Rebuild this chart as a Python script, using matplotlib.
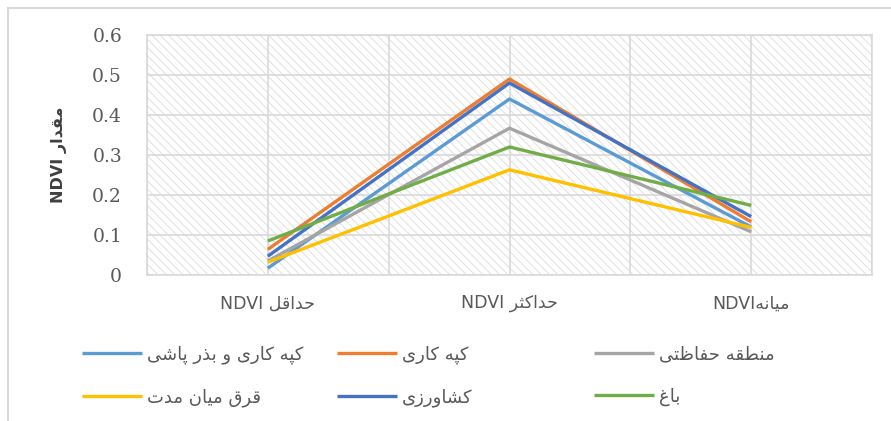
import matplotlib
matplotlib.use("Agg")
import matplotlib.pyplot as plt
from matplotlib.patches import Rectangle
from matplotlib.lines import Line2D

# data
categories = ["حداقل NDVI", "حداکثر NDVI", "میانهNDVI"]
series_names = ["کپه کاری و بذر پاشی", "کپه کاری", "منطقه حفاظتی",
                "قرق میان مدت", "کشاورزی", "باغ"]
pit_seeding = [0.017, 0.44, 0.12]
pitting = [0.064, 0.49, 0.133]
protected = [0.035, 0.367, 0.108]
exclosure = [0.032, 0.263, 0.119]
farming = [0.047, 0.48, 0.146]
garden = [0.085, 0.32, 0.174]
colors = ["#5B9BD5", "#ED7D31", "#A5A5A5", "#FFC000", "#4472C4", "#70AD47"]
y_ticks = [0, 0.1, 0.2, 0.3, 0.4, 0.5, 0.6]
y_title = "مقدار NDVI"

# simple arabic/persian shaping (no arabic_reshaper here)
FORMS = {
    'ا': (0xFE8D, 0xFE8E, None, None), 'آ': (0xFE81, 0xFE82, None, None),
    'ب': (0xFE8F, 0xFE90, 0xFE91, 0xFE92), 'پ': (0xFB56, 0xFB57, 0xFB58, 0xFB59),
    'ت': (0xFE95, 0xFE96, 0xFE97, 0xFE98), 'ث': (0xFE99, 0xFE9A, 0xFE9B, 0xFE9C),
    'ج': (0xFE9D, 0xFE9E, 0xFE9F, 0xFEA0), 'ح': (0xFEA1, 0xFEA2, 0xFEA3, 0xFEA4),
    'خ': (0xFEA5, 0xFEA6, 0xFEA7, 0xFEA8), 'د': (0xFEA9, 0xFEAA, None, None),
    'ذ': (0xFEAB, 0xFEAC, None, None), 'ر': (0xFEAD, 0xFEAE, None, None),
    'ز': (0xFEAF, 0xFEB0, None, None), 'س': (0xFEB1, 0xFEB2, 0xFEB3, 0xFEB4),
    'ش': (0xFEB5, 0xFEB6, 0xFEB7, 0xFEB8), 'ص': (0xFEB9, 0xFEBA, 0xFEBB, 0xFEBC),
    'ض': (0xFEBD, 0xFEBE, 0xFEBF, 0xFEC0), 'ط': (0xFEC1, 0xFEC2, 0xFEC3, 0xFEC4),
    'ظ': (0xFEC5, 0xFEC6, 0xFEC7, 0xFEC8), 'ع': (0xFEC9, 0xFECA, 0xFECB, 0xFECC),
    'غ': (0xFECD, 0xFECE, 0xFECF, 0xFED0), 'ف': (0xFED1, 0xFED2, 0xFED3, 0xFED4),
    'ق': (0xFED5, 0xFED6, 0xFED7, 0xFED8), 'ک': (0xFB8E, 0xFB8F, 0xFB90, 0xFB91),
    'گ': (0xFB92, 0xFB93, 0xFB94, 0xFB95), 'ل': (0xFEDD, 0xFEDE, 0xFEDF, 0xFEE0),
    'م': (0xFEE1, 0xFEE2, 0xFEE3, 0xFEE4), 'ن': (0xFEE5, 0xFEE6, 0xFEE7, 0xFEE8),
    'ه': (0xFEE9, 0xFEEA, 0xFEEB, 0xFEEC), 'و': (0xFEED, 0xFEEE, None, None),
    'ی': (0xFBFC, 0xFBFD, 0xFBFE, 0xFBFF), 'ژ': (0xFB8A, 0xFB8B, None, None),
}


def fa(text):
    shaped = []
    for i, ch in enumerate(text):
        if ch not in FORMS:
            shaped.append(ch)
            continue
        prev = text[i - 1] if i > 0 else ""
        nxt = text[i + 1] if i + 1 < len(text) else ""
        join_prev = prev in FORMS and FORMS[prev][2] is not None
        join_next = nxt in FORMS and FORMS[ch][2] is not None
        iso, fin, ini, med = FORMS[ch]
        if join_prev and join_next:
            code = med
        elif join_prev:
            code = fin
        elif join_next:
            code = ini
        else:
            code = iso
        shaped.append(chr(code))
    # split into runs and lay them out right to left
    runs = []
    for orig, s in zip(text, shaped):
        kind = "a" if orig in FORMS else ("s" if orig == " " else "l")
        if runs and runs[-1][0] == kind:
            runs[-1][1] += s
        else:
            runs.append([kind, s])
    out = ""
    for kind, s in reversed(runs):
        out += s[::-1] if kind == "a" else s
    return out


plt.rcParams['font.family'] = ['DejaVu Sans']
plt.rcParams['hatch.linewidth'] = 0.6

fig = plt.figure(figsize=(8.91, 4.21), dpi=100)
ax = fig.add_axes([147 / 891, 1 - 275 / 421, (872 - 147) / 891, 240 / 421])

x_pos = [1, 3, 5]
all_series = [pit_seeding, pitting, protected, exclosure, farming, garden]
lines = []
for vals, name, c in zip(all_series, series_names, colors):
    ln, = ax.plot(x_pos, vals, color=c, lw=2.4, label=fa(name),
                  solid_capstyle='butt', zorder=3)
    lines.append(ln)

ax.add_patch(Rectangle((0, 0), 1, 1, transform=ax.transAxes, facecolor='white',
                       edgecolor='#DCDCDC', hatch='\\\\\\\\', lw=0, zorder=0.1))
ax.set_xlim(0, 6)
ax.set_ylim(0, 0.6)
ax.set_xticks(x_pos)
ax.set_xticklabels([fa(c) for c in categories], fontsize=12.5, color='#595959')
ax.tick_params(axis='x', length=0, pad=14)
# vertical grid: excel puts lines between and on the categories here
for gx in range(7):
    ax.axvline(gx, color='#D9D9D9', lw=1.2, zorder=0.5)
ax.set_yticks(y_ticks)
ax.set_yticklabels([f"{v:g}" for v in y_ticks], fontsize=13.5,
                   color='#595959', family='DejaVu Serif')
ax.tick_params(axis='y', length=0, pad=18)
ax.yaxis.grid(True, which='major', color='#D9D9D9', lw=1.2)
ax.set_axisbelow(True)
for sp in ax.spines.values():
    sp.set_color('#D9D9D9')
    sp.set_linewidth(1.2)

ax.set_ylabel(fa(y_title), fontsize=11.5, fontweight='bold', color='#404040',
              labelpad=0)
ax.yaxis.set_label_coords(-0.11, 0.5)

# legend in 3 equal columns like excel
col_x = [82, 337, 594]
for i, xp in enumerate(col_x):
    leg = fig.legend([lines[i], lines[i + 3]], [fa(series_names[i]), fa(series_names[i + 3])],
                     loc='upper left', bbox_to_anchor=(xp / 891, 1 - 345 / 421),
                     frameon=False, fontsize=13, handlelength=3.3, handletextpad=0.3,
                     labelspacing=1.35, borderpad=0, borderaxespad=0)
    for t in leg.get_texts():
        t.set_color('#595959')

# chart area frame (top and left edges visible)
fig.add_artist(Line2D([8 / 891, 8 / 891], [0, 1 - 8 / 421], color='#D9D9D9', lw=1.5))
fig.add_artist(Line2D([8 / 891, 1], [1 - 8 / 421, 1 - 8 / 421], color='#D9D9D9', lw=1.5))

fig.savefig("out.png", dpi=100)
